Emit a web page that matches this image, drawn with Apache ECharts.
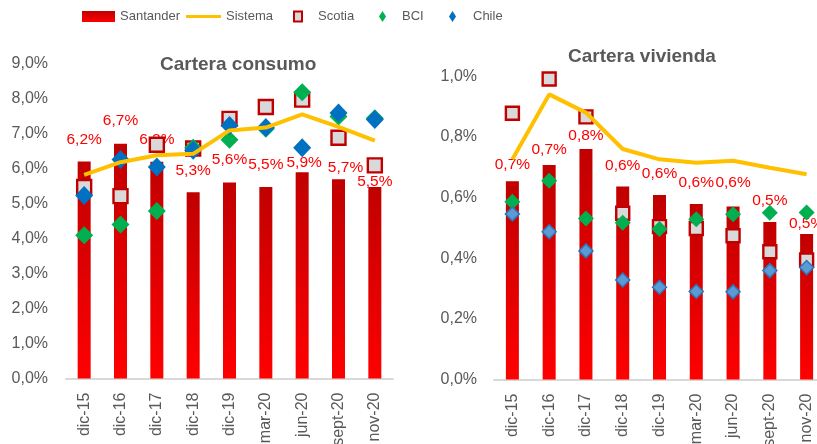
<!DOCTYPE html>
<html>
<head>
<meta charset="utf-8">
<script src="https://cdn.jsdelivr.net/npm/echarts@6/dist/echarts.min.js"></script>
<style>html,body{margin:0;padding:0;background:#fff;overflow:hidden}#c{width:817px;height:444px}</style>
</head>
<body>
<div id="c"></div>
<script>
const categories = ['dic-15','dic-16','dic-17','dic-18','dic-19','mar-20','jun-20','sept-20','nov-20'];

const consumoSantander = [6.21,6.72,6.2,5.33,5.61,5.48,5.9,5.7,5.48];
const consumoSistema   = [5.83,6.19,6.39,6.43,7.1,7.18,7.56,7.2,6.81];
const consumoScotia    = [5.48,5.22,6.69,6.58,7.43,7.77,7.98,6.89,6.1];
const consumoBCI       = [4.1,4.41,4.79,6.6,6.83,7.15,8.19,7.5,7.45];
const consumoChile     = [5.24,6.27,6.05,6.53,7.24,7.18,6.6,7.6,7.41];

const viviendaSantander = [0.654,0.707,0.76,0.636,0.608,0.579,0.57,0.519,0.48];
const viviendaSistema   = [0.726,0.94,0.88,0.76,0.726,0.715,0.721,0.698,0.677];
const viviendaScotia    = [0.878,0.991,0.866,0.548,0.504,0.498,0.474,0.421,0.394];
const viviendaBCI       = [0.586,0.655,0.531,0.517,0.496,0.528,0.545,0.55,0.551];
const viviendaChile     = [0.546,0.487,0.424,0.328,0.304,0.29,0.289,0.359,0.369];

const titles = ['Cartera consumo','Cartera vivienda'];

// data-label placement (style only: gap above bar in px, horizontal nudge in px)
const consumoLabelGap   = [14,15,14,14,15,14,2,4,-3];
const consumoLabelNudge = [0,0,0,0,0,0,2,7,0];
const viviendaLabelGap   = [8,7.5,5.5,12.5,13,13.5,16,13,2];
const viviendaLabelNudge = [0,0,0,0,0,0,0,0,0];

const fmt = v => (Number(v).toFixed(1)).replace('.', ',') + '%';
const grey = '#595959';
const font = "'Liberation Sans', Arial, sans-serif";
const barGrad = new echarts.graphic.LinearGradient(0,0,0,1,[{offset:0,color:'#c00000'},{offset:1,color:'#ff0000'}]);

const chart = echarts.init(document.getElementById('c'), null, {renderer:'canvas', width:817, height:444});

function xAxis(i){
  return {type:'category', gridIndex:i, data:categories,
    axisLine:{lineStyle:{color:'#d9d9d9', width:2}}, axisTick:{show:false},
    axisLabel:{rotate:90, interval:0, fontSize:16, color:grey, margin:14, fontFamily:font}};
}
function yAxis(i, max, interval, margin){
  return {type:'value', gridIndex:i, min:0, max:max, interval:interval,
    axisLine:{show:false}, axisTick:{show:false}, splitLine:{show:false},
    axisLabel:{fontSize:16, color:grey, margin:margin, fontFamily:font, formatter:fmt}};
}
function legend(name, left, w, h, pad, icon){
  return {data:[{name:name, icon:icon}], left:left, top:10, itemWidth:w, itemHeight:h, padding:0, selectedMode:false,
    textStyle:{color:grey, fontSize:13, fontFamily:font, padding:[0,0,0,pad]}};
}
function barData(vals, gaps, nudges){
  return vals.map((v,k)=>({value:v, label:{distance:gaps[k], offset:[nudges[k],0]}}));
}
function seriesFor(i, s, gaps, nudges, sis, sco, bci, chi, sz){
  return [
    {type:'bar', name:'Santander', xAxisIndex:i, yAxisIndex:i, data:barData(s,gaps,nudges), barWidth:13,
      itemStyle:{color:barGrad},
      label:{show:true, position:'top', color:'#ff0000', fontSize:15.5, fontFamily:font, formatter:p=>fmt(p.value)}},
    {type:'line', name:'Sistema', xAxisIndex:i, yAxisIndex:i, data:sis, symbol:'none',
      lineStyle:{color:'#ffc000', width:4}, itemStyle:{color:'#ffc000'}},
    {type:'scatter', name:'Scotia', xAxisIndex:i, yAxisIndex:i, data:sco, symbol:'rect', symbolSize:sz.sco,
      itemStyle:{color:'#d9d9d9', borderColor:'#c00000', borderWidth:2.4, opacity:1}},
    {type:'scatter', name:'BCI', xAxisIndex:i, yAxisIndex:i, data:bci, symbol:'diamond', symbolSize:sz.bci,
      itemStyle:{color:'#00b050', opacity:1}},
    {type:'scatter', name:'Chile', xAxisIndex:i, yAxisIndex:i, data:chi, symbol:'diamond', symbolSize:sz.chi,
      itemStyle: i===0 ? {color:'#0070c0', opacity:1} : {color:'#5b9bd5', borderColor:'#2e75b6', borderWidth:1.5, opacity:1}}
  ];
}

chart.setOption({
  animation:false,
  textStyle:{fontFamily:font},
  title:[
    {text:titles[0], left:160, top:55, padding:0, textStyle:{fontSize:19, fontWeight:'bold', color:grey, fontFamily:font}},
    {text:titles[1], left:568, top:47, padding:0, textStyle:{fontSize:19, fontWeight:'bold', color:grey, fontFamily:font}}
  ],
  legend:[
    legend('Santander', 82, 33, 11, 0, 'rect'),
    legend('Sistema', 186, 35, 3, 0, 'rect'),
    legend('Scotia', 293, 8, 10, 11, 'rect'),
    legend('BCI', 379, 7, 11, 11, 'diamond'),
    legend('Chile', 449, 7, 11, 12, 'diamond')
  ],
  grid:[
    {left:66, top:64, width:327, height:314.5, outerBoundsMode:'none', containLabel:false},
    {left:494, top:76.2, width:331, height:303.3, outerBoundsMode:'none', containLabel:false}
  ],
  xAxis:[xAxis(0), xAxis(1)],
  yAxis:[yAxis(0, 9, 1, 18), yAxis(1, 1.0, 0.2, 17)],
  series:[].concat(
    seriesFor(0, consumoSantander, consumoLabelGap, consumoLabelNudge, consumoSistema, consumoScotia, consumoBCI, consumoChile, {sco:14, bci:[18,18], chi:[18,19]}),
    seriesFor(1, viviendaSantander, viviendaLabelGap, viviendaLabelNudge, viviendaSistema, viviendaScotia, viviendaBCI, viviendaChile, {sco:13, bci:[16,16], chi:[14,14]})
  )
});
</script>
</body>
</html>
